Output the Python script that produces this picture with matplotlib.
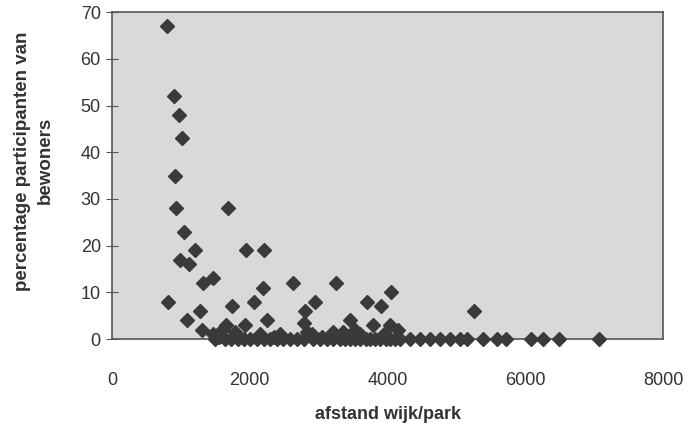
import matplotlib.pyplot as plt

# afstand wijk/park (x) en percentage participanten (y)
afstand = [800, 900, 980, 1010, 910, 930, 1680, 1050, 1200, 1950, 2200, 990,
           1120, 1320, 1470, 2190, 2620, 3250, 810, 1740, 2060, 2950, 1280,
           2800, 1090, 2250, 3700, 3900, 4050, 5250, 3450, 3790, 4030, 3530,
           1300, 1660, 1930, 2780, 3210, 1470, 1790, 2150, 2440, 2830, 4150,
           3350, 1550, 1600, 2900, 3050, 3600, 3950, 2350, 1850,
           1500, 1640, 1730, 1830, 1920, 2000, 2100, 2200, 2300, 2390, 2480,
           2580, 2680, 2780, 2920, 3020, 3120, 3210, 3310, 3380, 3450, 3530,
           3600, 3680, 3750, 3820, 3890, 3970, 4040, 4110, 4180, 4330, 4470,
           4620, 4760, 4900, 5050, 5150, 5390, 5580, 5720, 6080, 6260, 6480,
           7060]
percentage = [67, 52, 48, 43, 35, 28, 28, 23, 19, 19, 19, 17,
              16, 12, 13, 11, 12, 12, 8, 7, 8, 8, 6,
              6, 4, 4, 8, 7, 10, 6, 4, 3, 3, 2,
              2, 3, 3, 3.5, 1.5, 1, 1.5, 1, 1, 1.5, 2,
              1.5, 0.5, 2, 1, 0.5, 1, 1, 0.5, 0.5,
              0, 0, 0, 0, 0, 0, 0, 0, 0, 0, 0,
              0, 0, 0, 0, 0, 0, 0, 0, 0, 0, 0,
              0, 0, 0, 0, 0, 0, 0, 0, 0, 0, 0,
              0, 0, 0, 0, 0, 0, 0, 0, 0, 0, 0,
              0]

plt.rcParams['font.family'] = ['Liberation Sans', 'DejaVu Sans']

fig = plt.figure(figsize=(6.91, 4.33), dpi=100)
ax = fig.add_axes([0.162, 0.217, 0.798, 0.755])
ax.set_facecolor('#d9d9d9')

ax.plot(afstand, percentage, 'D', color='#3a3a3a', markersize=6.8,
        clip_on=False, zorder=3)

ax.set_xlim(0, 8000)
ax.set_ylim(0, 70)
ax.set_xticks([0, 2000, 4000, 6000, 8000])
ax.set_yticks(range(0, 71, 10))
ax.tick_params(axis='y', direction='inout', length=8, color='#555555',
               labelsize=13, labelcolor='#333333', pad=4)
ax.tick_params(axis='x', length=0, labelsize=13, labelcolor='#333333', pad=24)
for s in ax.spines.values():
    s.set_color('#555555')
    s.set_linewidth(1.2)

ax.set_xlabel('afstand wijk/park', fontsize=13, fontweight='bold',
              color='#333333', labelpad=12)
ax.set_ylabel('percentage participanten van\nbewoners', fontsize=13.5,
              fontweight='bold', color='#333333', linespacing=1.45)
ax.yaxis.set_label_coords(-0.105, 0.545)

fig.savefig('out.png', dpi=100)
